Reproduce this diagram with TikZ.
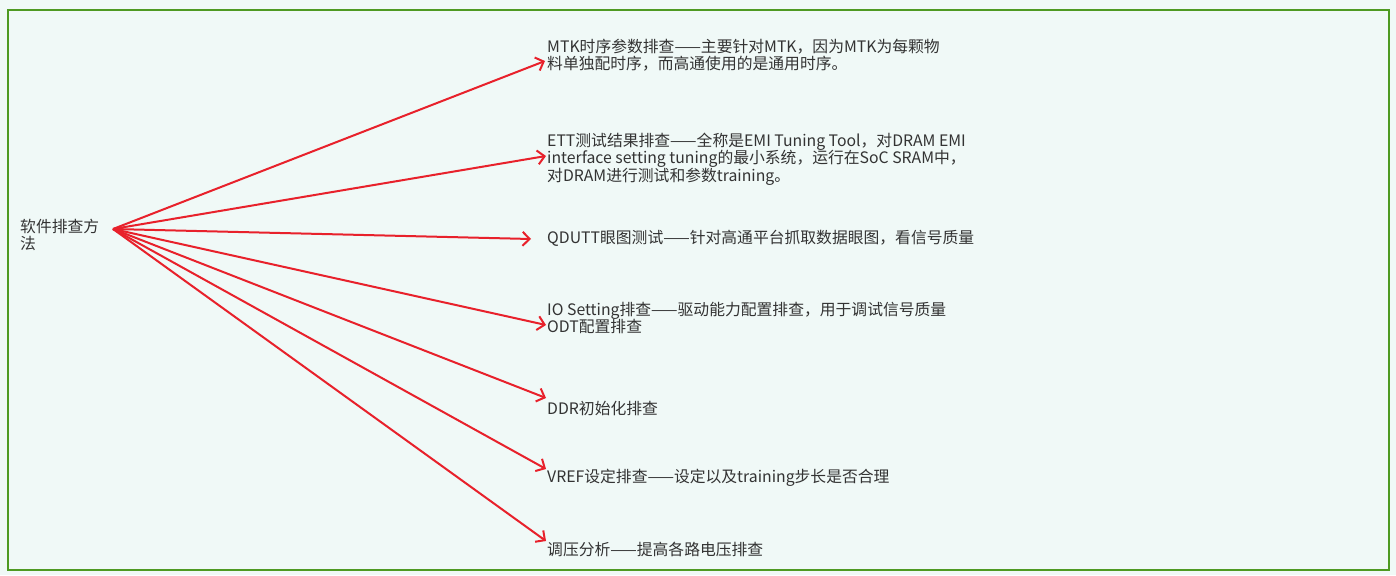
\documentclass[tikz,border=0pt]{standalone}
\usepackage{fontspec}
\setmainfont{Noto Sans CJK SC}
\usetikzlibrary{arrows.meta}
\definecolor{bgc}{HTML}{F0F9F7}
\definecolor{framec}{HTML}{4E9A22}
\definecolor{arrc}{HTML}{E8212B}
\definecolor{txtc}{HTML}{333333}
\tikzset{
  lbl/.style={anchor=west, inner sep=0pt, align=left, text=txtc,
    font=\fontsize{15.8}{17.5}\selectfont},
  conn/.style={draw=arrc, line width=2pt,
    -{Straight Barb[length=7pt,width=14pt,line width=2pt]}},
}
\begin{document}
\begin{tikzpicture}[x=1pt,y=-1pt]
\useasboundingbox (0,0) rectangle (1396,575);
\fill[bgc] (0,0) rectangle (1396,575);
\draw[framec, line width=2pt] (8,10) rectangle (1389,570);

\node[lbl] (root) at (20,235) {软件排查方\\法};
\coordinate (src) at (113,229);

\node[lbl] (n1) at (547,55) {MTK时序参数排查——主要针对MTK，因为MTK为每颗物\\料单独配时序，而高通使用的是通用时序。};
\node[lbl] (n2) at (547,159) {ETT测试结果排查——全称是EMI Tuning Tool，对DRAM EMI\\interface setting tuning的最小系统，运行在SoC SRAM中，\\对DRAM进行测试和参数training。};
\node[lbl] (n3) at (547,238) {QDUTT眼图测试——针对高通平台抓取数据眼图，看信号质量};
\node[lbl] (n4) at (547,318) {IO Setting排查——驱动能力配置排查，用于调试信号质量\\ODT配置排查};
\node[lbl] (n5) at (547,408) {DDR初始化排查};
\node[lbl] (n6) at (547,478) {VREF设定排查——设定以及training步长是否合理};
\node[lbl] (n7) at (547,549) {调压分析——提高各路电压排查};

\coordinate (t1) at (545,61);
\coordinate (t2) at (546,156);
\coordinate (t3) at (531,239);
\coordinate (t4) at (546,325);
\coordinate (t5) at (546,398);
\coordinate (t6) at (546,469);
\coordinate (t7) at (546,541);

\foreach \i in {1,...,7} {
  \draw[conn] (src) -- (t\i);
}
\end{tikzpicture}
\end{document}
